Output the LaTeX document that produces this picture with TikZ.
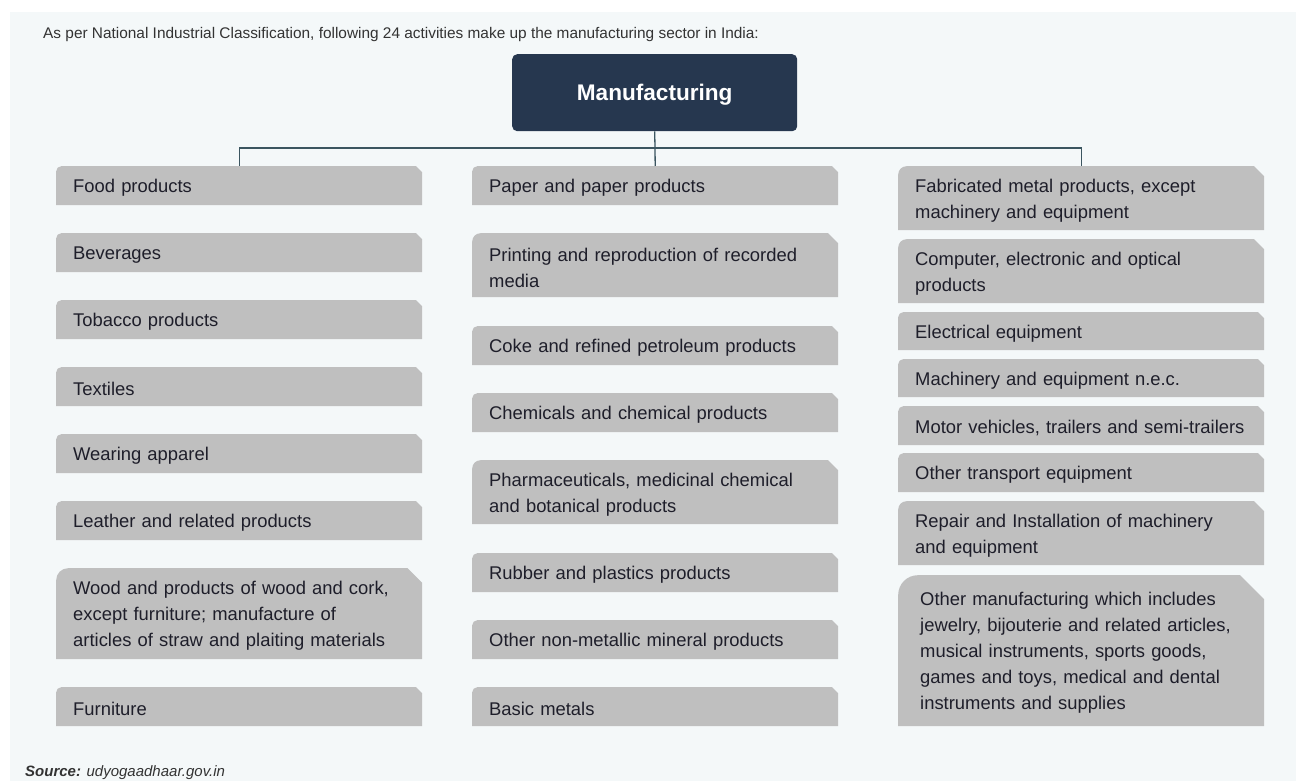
\documentclass[tikz,border=0pt]{standalone}
\usepackage{fontspec}
\setmainfont{Liberation Sans}
\usetikzlibrary{positioning, calc}

\definecolor{pagebg}{HTML}{F4F8F9}
\definecolor{catgrey}{HTML}{BFBFBF}
\definecolor{mfgblue}{HTML}{26374F}
\definecolor{linkline}{HTML}{3B5560}
\definecolor{cattext}{HTML}{1E1E2A}
\definecolor{headtext}{HTML}{333333}

% grey box: node is 5pt taller than the drawn box, so the text sits a little low
\tikzset{
  cat/.style={anchor=north west, text width=332pt, inner xsep=17pt, inner ysep=2pt,
    minimum height=#1+5pt, align=left, text=cattext, font=\fontsize{18.4}{26}\selectfont,
    path picture={
      \fill[catgrey] let \p1=(path picture bounding box.south west),
                         \p2=(path picture bounding box.north east),
                         \n1={0.13*(\y2-\y1-5pt)}, \n2={0.16*(\y2-\y1-5pt)} in
        (\x1,{\y1+5pt}) -- (\x1,{\y2-\n1}) arc[start angle=180, end angle=90, radius=\n1]
        -- ({\x2-\n2},\y2) -- (\x2,{\y2-\n2}) -- (\x2,{\y1+5pt}) -- cycle;
    }},
  cat/.default=39pt,
  link/.style={draw=linkline, line width=1.3pt},
}

\begin{document}
\begin{tikzpicture}[x=1pt, y=-1pt]
\fill[white] (0,0) rectangle (1296,781);
\fill[pagebg] (10,12) rectangle (1296,781);
\useasboundingbox (0,0) rectangle (1296,781);

\node[anchor=base west, inner sep=0pt, text=headtext, font=\fontsize{15.4}{18}\selectfont] (title) at (43,39)
  {As per National Industrial Classification, following 24 activities make up the manufacturing sector in India:};
\node[anchor=north west, fill=mfgblue, rounded corners=5pt, minimum width=285pt, minimum height=77pt,
  text depth=0pt, text=white, font=\fontsize{22.6}{26}\selectfont\bfseries] (mfg) at (512,54) {Manufacturing};

% first column
\node[cat] (food) at (56,166) {Food products};
\node[cat] (bev) at (56,233) {Beverages};
\node[cat] (tob) at (56,300) {Tobacco products};
\node[cat] (tex) at (56,367) {Textiles};
\node[cat] (wear) at (56,434) {Wearing apparel};
\node[cat] (leat) at (56,501) {Leather and related products};
\node[cat=91pt] (wood) at (56,568) {Wood and products of wood and cork,\\except furniture; manufacture of\\articles of straw and plaiting materials};
\node[cat] (furn) at (56,687) {Furniture};

% second column
\node[cat] (paper) at (472,166) {Paper and paper products};
\node[cat=64pt] (print) at (472,233) {Printing and reproduction of recorded\\media};
\node[cat] (coke) at (472,326) {Coke and refined petroleum products};
\node[cat] (chem) at (472,393) {Chemicals and chemical products};
\node[cat=64pt] (pharma) at (472,460) {Pharmaceuticals, medicinal chemical\\and botanical products};
\node[cat] (rubber) at (472,553) {Rubber and plastics products};
\node[cat] (nonmet) at (472,620) {Other non-metallic mineral products};
\node[cat] (basic) at (472,687) {Basic metals};

% third column
\node[cat=64pt] (fab) at (898,166) {Fabricated metal products, except\\machinery and equipment};
\node[cat=64pt] (comp) at (898,239) {Computer, electronic and optical\\products};
\node[cat=38pt] (elec) at (898,312) {Electrical equipment};
\node[cat=38pt] (mach) at (898,359) {Machinery and equipment n.e.c.};
\node[cat] (motor) at (898,406) {Motor vehicles, trailers and semi-trailers};
\node[cat] (trans) at (898,453) {Other transport equipment};
\node[cat=64pt] (repair) at (898,501) {Repair and Installation of machinery\\and equipment};
\node[cat=151pt, text width=322pt, inner xsep=22pt] (othmfg) at (898,575)
  {Other manufacturing which includes\\jewelry, bijouterie and related articles,\\musical instruments, sports goods,\\games and toys, medical and dental\\instruments and supplies};

% connectors
\coordinate (bus) at (655,148);
\draw[link] (mfg.south) -- (bus);
\draw[link] (food.north) |- (bus) -| (fab.north);
\draw[link] (bus) -- (paper.north);

\node[anchor=base west, inner sep=0pt, text=headtext, font=\fontsize{15}{16}\selectfont\itshape] (src) at (25,776)
  {\textbf{Source:} udyogaadhaar.gov.in};
\end{tikzpicture}
\end{document}
